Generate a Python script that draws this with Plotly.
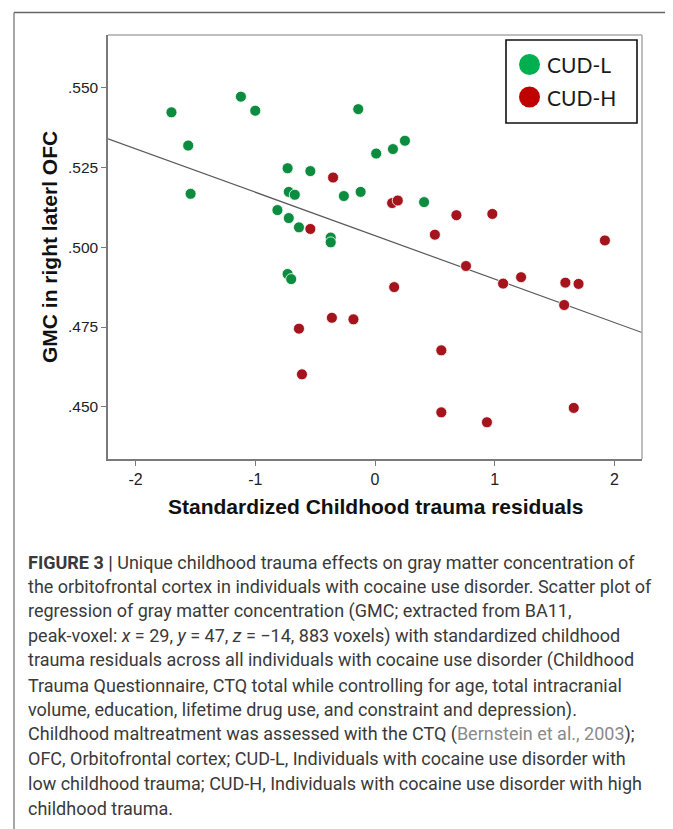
import plotly.graph_objects as go

# ---------------- data ----------------
cudl_x = [-1.70, -1.56, -1.54, -1.12, -1.00, -0.14, 0.01, 0.15, 0.25, -0.73, -0.54, -0.72,
          -0.67, -0.26, -0.12, -0.815, -0.72, -0.635, -0.37, -0.37, 0.41, -0.73, -0.70]
cudl_y = [0.5422, 0.5318, 0.5167, 0.5471, 0.5427, 0.5432, 0.5293, 0.5307, 0.5333, 0.5247,
          0.5238, 0.5173, 0.5164, 0.5160, 0.5173, 0.5116, 0.5091, 0.5062, 0.5030, 0.5015,
          0.5141, 0.4916, 0.4900]
cudh_x = [-0.35, -0.54, 0.143, 0.19, 0.68, 0.98, 0.50, 1.92, 0.76, 1.07, 1.22, 1.59, 1.70,
          1.58, 0.16, -0.36, -0.18, -0.635, -0.61, 0.554, 0.554, 0.935, 1.66]
cudh_y = [0.5218, 0.5057, 0.5138, 0.5146, 0.5100, 0.5104, 0.5039, 0.5021, 0.4941, 0.4886,
          0.4906, 0.4889, 0.4885, 0.4819, 0.4875, 0.4779, 0.4774, 0.4745, 0.4602, 0.4677,
          0.4483, 0.4452, 0.4497]
fit_intercept = 0.5036
fit_slope = -0.0136
x_range = [-2.23, 2.23]
y_range = [0.4337, 0.5664]
x_ticks = [-2, -1, 0, 1, 2]
x_ticktext = ["-2", "-1", "0", "1", "2"]
y_ticks = [0.450, 0.475, 0.500, 0.525, 0.550]
y_ticktext = [".450", ".475", ".500", ".525", ".550"]
series_names = ["CUD-L", "CUD-H"]

caption_lines = [
    "<b>FIGURE 3 |</b> Unique childhood trauma effects on gray matter concentration of",
    "the orbitofrontal cortex in individuals with cocaine use disorder. Scatter plot of",
    "regression of gray matter concentration (GMC; extracted from BA11,",
    "peak-voxel: <i>x</i> = 29, <i>y</i> = 47, <i>z</i> = \u221214, 883 voxels) with standardized childhood",
    "trauma residuals across all individuals with cocaine use disorder (Childhood",
    "Trauma Questionnaire, CTQ total while controlling for age, total intracranial",
    "volume, education, lifetime drug use, and constraint and depression).",
    "Childhood maltreatment was assessed with the CTQ (<span style='color:#8a8a8a'>Bernstein et al., 2003</span>);",
    "OFC, Orbitofrontal cortex; CUD-L, Individuals with cocaine use disorder with",
    "low childhood trauma; CUD-H, Individuals with cocaine use disorder with high",
    "childhood trauma.",
]

# ---------------- layout geometry (window pixels) ----------------
WIN_W, WIN_H = 673, 829
OFF = 8  # default page body margin
W, H = WIN_W - OFF, WIN_H - OFF
L, R, T, B = 108, 642, 35, 459


def px(xp):
    return (xp - L) / (R - L)


def py(yp):
    return (B - yp) / (B - T)


GREEN = "#0c8c3e"
RED = "#a5141d"

fig = go.Figure()
fig.add_trace(go.Scatter(
    x=x_range, y=[fit_intercept + fit_slope * v for v in x_range],
    mode="lines", line=dict(color="#5a5a5a", width=1.2), showlegend=False, hoverinfo="skip"))
fig.add_trace(go.Scatter(
    x=cudl_x, y=cudl_y, mode="markers", name=series_names[0], showlegend=False,
    marker=dict(size=11, color=GREEN, line=dict(color="white", width=0.8))))
fig.add_trace(go.Scatter(
    x=cudh_x, y=cudh_y, mode="markers", name=series_names[1], showlegend=False,
    marker=dict(size=11, color=RED, line=dict(color="white", width=0.8))))

shapes = []
annotations = []

# plot area top/right border (lighter)
shapes.append(dict(type="line", xref="paper", yref="paper", x0=0, x1=1, y0=1, y1=1,
                   line=dict(color="#a8a8a8", width=1.5)))
shapes.append(dict(type="line", xref="paper", yref="paper", x0=1, x1=1, y0=0, y1=1,
                   line=dict(color="#a8a8a8", width=1.5)))

# outer figure frame
shapes.append(dict(type="line", xref="paper", yref="paper", x0=px(14), x1=px(670), y0=py(12.5), y1=py(12.5),
                   line=dict(color="#666666", width=1.3)))
shapes.append(dict(type="line", xref="paper", yref="paper", x0=px(14), x1=px(14), y0=py(12.5), y1=py(829),
                   line=dict(color="#777777", width=1.3)))
shapes.append(dict(type="line", xref="paper", yref="paper", x0=px(670), x1=px(670), y0=py(12.5), y1=py(829),
                   line=dict(color="#999999", width=1.3)))

# legend box
shapes.append(dict(type="rect", xref="paper", yref="paper", x0=px(506), x1=px(637), y0=py(123), y1=py(40),
                   line=dict(color="#111111", width=1.6), fillcolor="white", layer="above"))
for i, (nm, col) in enumerate(zip(series_names, ["#00b050", "#c00000"])):
    cy = 64.5 + i * 32.5
    shapes.append(dict(type="circle", xref="paper", yref="paper", xsizemode="pixel", ysizemode="pixel",
                       xanchor=px(529.5), yanchor=py(cy), x0=-10.5, x1=10.5, y0=-10.5, y1=10.5,
                       fillcolor=col, line=dict(width=0), layer="above"))
    annotations.append(dict(xref="paper", yref="paper", x=px(545), y=py(cy), text=nm, showarrow=False,
                            xanchor="left", yanchor="middle",
                            font=dict(family="Lato, Carlito, Open Sans, sans-serif", size=21, color="#1a1a1a")))

# axis titles
annotations.append(dict(xref="paper", yref="paper", x=px(375), y=py(506),
                        text="<b>Standardized Childhood trauma residuals</b>", showarrow=False,
                        xanchor="center", yanchor="middle",
                        font=dict(family="Liberation Sans, Arial, sans-serif", size=21, color="#111111")))
annotations.append(dict(xref="paper", yref="paper", x=px(49), y=py(247),
                        text="<b>GMC in right laterl OFC</b>", showarrow=False, textangle=-90,
                        xanchor="center", yanchor="middle",
                        font=dict(family="Liberation Sans, Arial, sans-serif", size=21, color="#111111")))

# caption
for i, line in enumerate(caption_lines):
    annotations.append(dict(xref="paper", yref="paper", x=px(26), y=py(562 + i * 24.6),
                            text=line, showarrow=False, xanchor="left", yanchor="middle",
                            font=dict(family="Roboto, sans-serif", size=18, color="#3a3a3a")))

fig.update_layout(
    width=W, height=H,
    margin=dict(l=L - OFF, r=W - (R - OFF), t=T - OFF, b=H - (B - OFF), pad=0),
    paper_bgcolor="white", plot_bgcolor="white",
    showlegend=False,
    shapes=shapes, annotations=annotations,
    xaxis=dict(range=x_range, tickvals=x_ticks, ticktext=x_ticktext, showgrid=False, zeroline=False,
               showline=True, linecolor="#7a7a7a", linewidth=1.5, ticks="outside", ticklen=5,
               tickcolor="#7a7a7a", tickwidth=1.3,
               tickfont=dict(family="Liberation Sans, Arial, sans-serif", size=16, color="#222222")),
    yaxis=dict(range=y_range, tickvals=y_ticks, ticktext=y_ticktext, showgrid=False, zeroline=False,
               showline=True, linecolor="#7a7a7a", linewidth=1.5, ticks="outside", ticklen=5,
               tickcolor="#7a7a7a", tickwidth=1.3,
               tickfont=dict(family="Liberation Sans, Arial, sans-serif", size=15.5, color="#222222")),
)

fig.write_html("out.html")
